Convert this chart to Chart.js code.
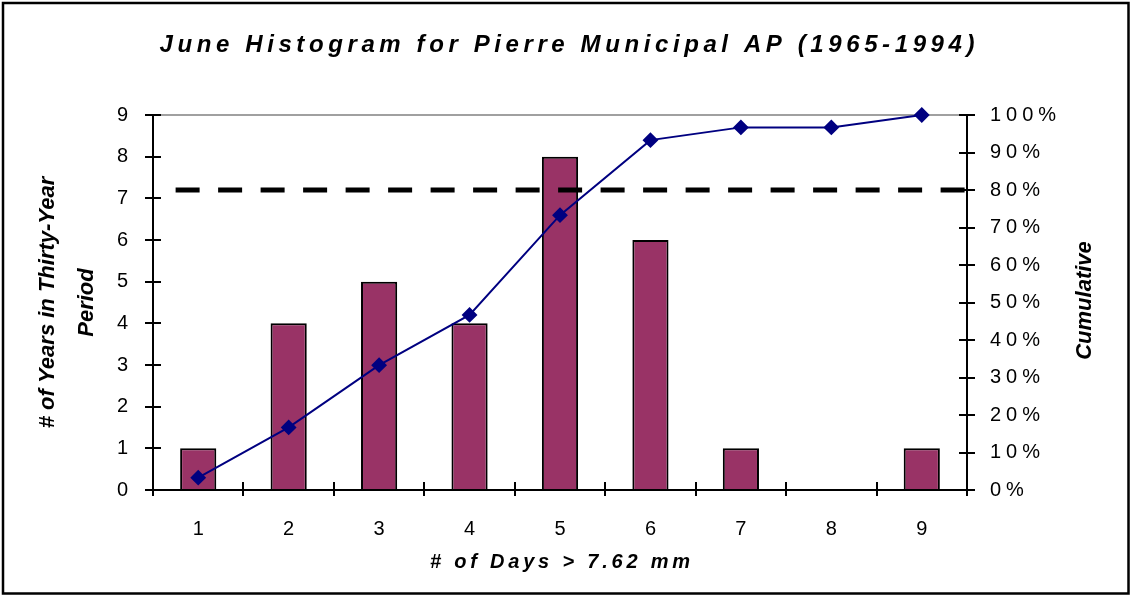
<!DOCTYPE html>
<html>
<head>
<meta charset="utf-8">
<script src="https://cdn.jsdelivr.net/npm/chart.js@4"></script>
<style>
  html, body { margin: 0; padding: 0; background: #fff; }
  #wrap { width: 1130px; height: 595px; }
</style>
</head>
<body>
<div id="wrap"><canvas id="myChart"></canvas></div>
<script>
// data
const days = ['1', '2', '3', '4', '5', '6', '7', '8', '9'];
const years = [1, 4, 5, 4, 8, 6, 1, 0, 1];
const cumulative = [3.3, 16.7, 33.3, 46.7, 73.3, 93.3, 96.7, 96.7, 100];
const countTicks = [0, 1, 2, 3, 4, 5, 6, 7, 8, 9];
const percentTicks = [0, 10, 20, 30, 40, 50, 60, 70, 80, 90, 100];
// 80% reference line, spanning category positions from/to
const refLine = { value: 80, from: -0.25, to: 8.5 };

const FONT = "'Liberation Sans', Arial, sans-serif";

function text(ctx, str, x, y, opts) {
  ctx.save();
  ctx.translate(x, y);
  if (opts.rotate) ctx.rotate(opts.rotate);
  ctx.font = opts.font;
  ctx.letterSpacing = (opts.spacing || 0) + 'px';
  ctx.fillStyle = '#000';
  ctx.textAlign = 'center';
  ctx.textBaseline = 'middle';
  // trailing spacing would push centered text left
  ctx.fillText(str, (opts.spacing || 0) / 2, 0);
  ctx.restore();
}

const decor = {
  id: 'decor',
  beforeDraw(chart) {
    const ctx = chart.ctx;
    ctx.save();
    ctx.fillStyle = '#fff';
    ctx.fillRect(0, 0, chart.width, chart.height);
    ctx.strokeStyle = '#000';
    ctx.lineWidth = 2.5;
    ctx.strokeRect(3, 3, chart.width - 4.5, chart.height - 4.5);
    ctx.restore();
    ctx.letterSpacing = '5px';
  },
  beforeDatasetsDraw(chart) {
    const ctx = chart.ctx, a = chart.chartArea;
    ctx.save();
    ctx.strokeStyle = '#808080';
    ctx.lineWidth = 1.5;
    ctx.beginPath();
    ctx.moveTo(a.left, a.top);
    ctx.lineTo(a.right, a.top);
    ctx.stroke();
    ctx.restore();
  },
  afterDatasetDraw(chart, args) {
    if (args.index !== 0) return;
    const ctx = chart.ctx;
    const x = chart.scales.x, y2 = chart.scales.y2;
    const py = y2.getPixelForValue(refLine.value);
    ctx.save();
    ctx.strokeStyle = '#000';
    ctx.lineWidth = 5;
    ctx.setLineDash([24, 18.5]);
    ctx.beginPath();
    ctx.moveTo(x.getPixelForValue(refLine.from), py);
    ctx.lineTo(x.getPixelForValue(refLine.to), py);
    ctx.stroke();
    ctx.restore();
  },
  afterDraw(chart) {
    const ctx = chart.ctx, a = chart.chartArea;
    const { x, y, y2 } = chart.scales;
    // inner half of the crossing tick marks
    ctx.save();
    ctx.strokeStyle = '#000';
    ctx.lineWidth = 2;
    ctx.beginPath();
    y.ticks.forEach(t => {
      const p = Math.round(y.getPixelForValue(t.value));
      ctx.moveTo(a.left, p); ctx.lineTo(a.left + 8, p);
    });
    y2.ticks.forEach(t => {
      const p = Math.round(y2.getPixelForValue(t.value));
      ctx.moveTo(a.right, p); ctx.lineTo(a.right - 8, p);
    });
    for (let i = 0; i <= days.length; i++) {
      const p = Math.round(x.getPixelForValue(i - 0.5));
      ctx.moveTo(p, a.bottom); ctx.lineTo(p, a.bottom - 8);
    }
    ctx.stroke();
    ctx.restore();

    const bi = 'italic bold ';
    text(ctx, 'June Histogram for Pierre Municipal AP (1965-1994)', chart.width / 2 + 2, 45,
      { font: bi + '24px ' + FONT, spacing: 4.6 });
    text(ctx, '# of Days > 7.62 mm', (a.left + a.right) / 2, 562,
      { font: bi + '20px ' + FONT, spacing: 3.8 });
    const cy = (a.top + a.bottom) / 2;
    text(ctx, '# of Years in Thirty-Year', 48, cy,
      { font: bi + '22px ' + FONT, rotate: -Math.PI / 2 });
    text(ctx, 'Period', 87, cy,
      { font: bi + '22px ' + FONT, rotate: -Math.PI / 2 });
    text(ctx, 'Cumulative', 1085, cy - 2,
      { font: bi + '22px ' + FONT, rotate: -Math.PI / 2 });
  }
};

const axisBase = {
  grid: { drawOnChartArea: false, drawTicks: true, tickLength: 8, color: '#000', lineWidth: 2 },
  border: { display: true, color: '#000', width: 2 },
  title: { display: false }
};

new Chart(document.getElementById('myChart'), {
  type: 'bar',
  plugins: [decor],
  data: {
    labels: days,
    datasets: [
      {
        type: 'bar',
        label: 'Years',
        data: years,
        yAxisID: 'y',
        backgroundColor: '#993366',
        borderColor: '#000',
        borderWidth: 2,
        barPercentage: 0.4,
        categoryPercentage: 1,
        order: 2
      },
      {
        type: 'line',
        label: 'Cumulative',
        data: cumulative,
        yAxisID: 'y2',
        borderColor: '#000080',
        backgroundColor: '#000080',
        borderWidth: 2,
        pointStyle: 'rectRot',
        pointRadius: 6.5,
        pointBackgroundColor: '#000080',
        pointBorderColor: '#000080',
        tension: 0,
        clip: false,
        order: 1
      }
    ]
  },
  options: {
    responsive: true,
    maintainAspectRatio: false,
    animation: false,
    layout: { padding: { top: 115, left: 0, right: 0, bottom: 0 } },
    plugins: {
      legend: { display: false },
      title: { display: false },
      tooltip: { enabled: false }
    },
    scales: {
      x: {
        type: 'category',
        offset: true,
        grid: { ...axisBase.grid, offset: true, tickLength: 6 },
        border: axisBase.border,
        ticks: { color: '#000', font: { family: FONT, size: 20 }, padding: 21, maxRotation: 0, labelOffset: 2.5 },
        afterFit(s) { s.height = 105; }
      },
      y: {
        position: 'left',
        min: 0,
        max: 9,
        grid: axisBase.grid,
        border: axisBase.border,
        afterBuildTicks(s) { s.ticks = countTicks.map(v => ({ value: v })); },
        ticks: { color: '#000', font: { family: FONT, size: 20 }, padding: 12 },
        afterFit(s) { s.width = 153; }
      },
      y2: {
        position: 'right',
        min: 0,
        max: 100,
        grid: axisBase.grid,
        border: axisBase.border,
        afterBuildTicks(s) { s.ticks = percentTicks.map(v => ({ value: v })); },
        ticks: {
          color: '#000', font: { family: FONT, size: 20 }, padding: 15,
          callback: v => v + '%'
        },
        afterFit(s) { s.width = 163; }
      }
    }
  }
});
</script>
</body>
</html>
